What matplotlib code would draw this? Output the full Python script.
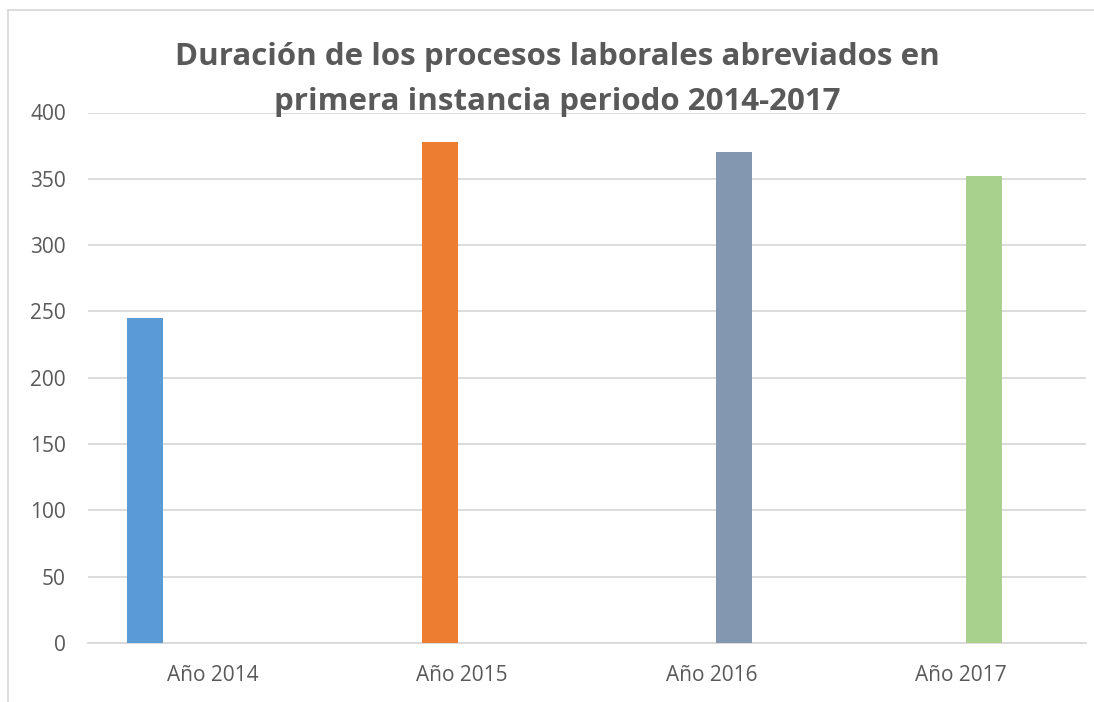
import matplotlib.pyplot as plt
from matplotlib.lines import Line2D

plt.rcParams["font.family"] = ["Open Sans", "DejaVu Sans"]

categories = ["Año 2014", "Año 2015", "Año 2016", "Año 2017"]
values = [245, 378, 370, 352]
# slot of each bar inside its category cluster (4 slots per cluster)
slots = [0, 1, 2, 2]
colors = ["#5B9BD5", "#ED7D31", "#8497B0", "#A9D18E"]
yticks = [0, 50, 100, 150, 200, 250, 300, 350, 400]

title = "Duración de los procesos laborales abreviados en\nprimera instancia periodo 2014-2017"

W, H = 1094, 702
fig = plt.figure(figsize=(W / 100, H / 100), dpi=100)
ax = fig.add_axes([88 / W, (H - 643) / H, (1086 - 88) / W, (643 - 112.5) / H])

slot_w = 0.18
bar_w = 0.145
for i, (v, s, c) in enumerate(zip(values, slots, colors)):
    x = i + (s - 1.5) * slot_w
    ax.bar(x, v, width=bar_w, color=c, zorder=3)

ax.set_xlim(-0.5, len(categories) - 0.5)
ax.set_ylim(0, 400)
ax.set_yticks(yticks)
ax.set_xticks(range(len(categories)))
ax.set_xticklabels(categories)

ax.grid(axis="y", color="#D9D9D9", linewidth=1.3, zorder=0)
for side in ["top", "right", "left"]:
    ax.spines[side].set_visible(False)
ax.spines["bottom"].set_color("#D9D9D9")
ax.spines["bottom"].set_linewidth(1.3)
ax.tick_params(axis="both", length=0, labelsize=15, labelcolor="#595959")
ax.tick_params(axis="y", pad=16)
ax.tick_params(axis="x", pad=16)

fig.text(557 / W, 1 - 79.5 / H, title, ha="center", va="center",
         fontsize=22.5, fontweight="bold", color="#595959",
         linespacing=1.62)

# chart frame: only the top and left edges fall inside the picture
fig.add_artist(Line2D([7.5 / W, 1], [1 - 9.5 / H] * 2, transform=fig.transFigure,
                      color="#D9D9D9", linewidth=1.3))
fig.add_artist(Line2D([7.5 / W] * 2, [0, 1 - 9.5 / H], transform=fig.transFigure,
                      color="#D9D9D9", linewidth=1.3))

fig.savefig("out.png", dpi=100)
